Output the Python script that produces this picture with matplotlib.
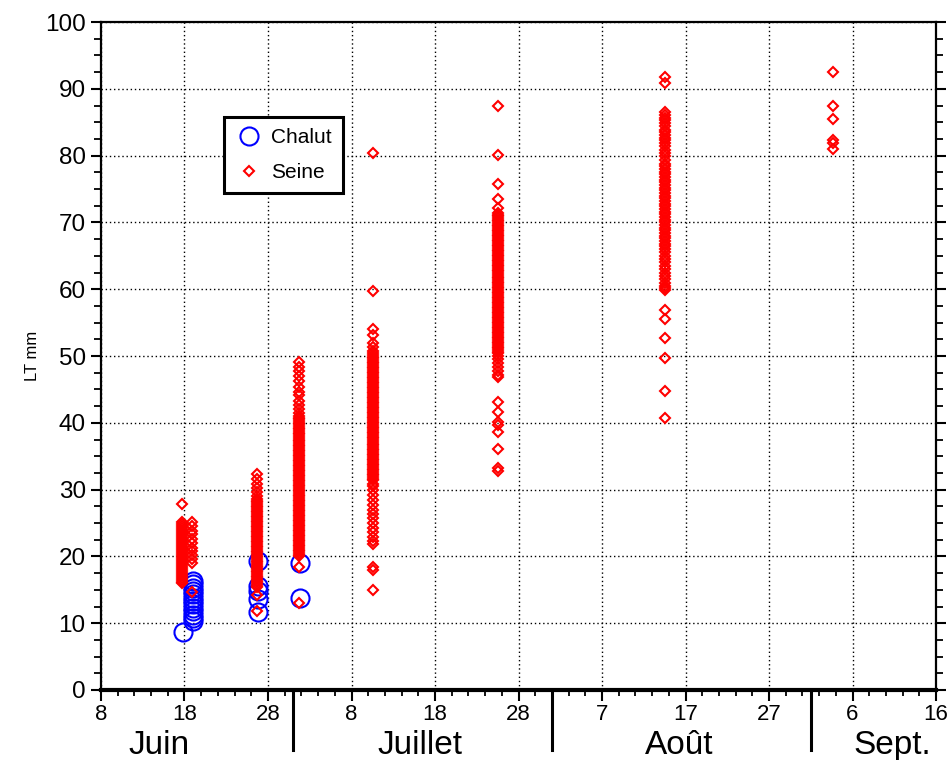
import matplotlib
matplotlib.use("Agg")
import matplotlib.pyplot as plt
from matplotlib.ticker import MultipleLocator
import matplotlib.transforms as mtransforms

plt.rcParams['font.family'] = ['Liberation Sans', 'DejaVu Sans']

# x = day counted from 1 June (June 8 = 8, July 8 = 38, Aug 7 = 68, Sept 6 = 98)
x_ticks = [8, 18, 28, 38, 48, 58, 68, 78, 88, 98, 108]
x_ticklabels = ['8', '18', '28', '8', '18', '28', '7', '17', '27', '6', '16']
months = ['Juin', 'Juillet', 'Août', 'Sept.']
month_centers = [15, 46.2, 77.3, 102.8]
month_bounds = [31, 62, 93]

# Chalut (trawl) samples
chalut_days = [17.8, 19.0, 26.8, 31.8]
chalut_jun18 = [8.7]
chalut_jun19 = [16.3, 15.8, 15.3, 14.8, 14.3, 13.8, 13.3, 12.8, 12.3, 11.8, 11.3, 10.8, 10.3]
chalut_jun27 = [19.3, 15.6, 14.8, 13.6, 11.7]
chalut_jul02 = [19.0, 13.8]

# Seine samples
seine_days = [17.7, 18.9, 26.7, 31.7, 40.6, 55.5, 75.5, 95.7]
seine_jun18 = [27.8, 25.2, 24.9, 24.6, 24.3, 24.0, 23.7, 23.4, 23.1, 22.8, 22.5, 22.2, 21.9,
               21.6, 21.3, 21.0, 20.7, 20.4, 20.1, 19.8, 19.5, 19.2, 18.9, 18.6, 18.3, 18.0,
               17.7, 17.4, 17.1, 16.8, 16.5, 16.2, 16.0]
seine_jun19 = [25.2, 24.5, 23.8, 23.3, 22.6, 22.0, 21.3, 20.8, 20.2, 19.6, 19.0, 14.7]
seine_jun27 = [32.3, 31.6, 30.8, 30.2, 29.6, 29.1,
               28.6, 28.35, 28.1, 27.85, 27.6, 27.35, 27.1, 26.85, 26.6, 26.35, 26.1, 25.85,
               25.6, 25.35, 25.1, 24.85, 24.6, 24.35, 24.1, 23.85, 23.6, 23.35, 23.1, 22.85,
               22.6, 22.35, 22.1, 21.85, 21.6, 21.35, 21.1, 20.85, 20.6, 20.35, 20.1, 19.85,
               19.6, 19.35, 19.1, 18.85, 18.6, 18.35, 18.1, 17.85, 17.6, 17.35, 17.1, 16.85,
               16.6, 16.35, 16.1, 15.85, 15.6, 15.35, 14.2, 11.8]
seine_jul02 = [49.1, 48.4, 47.7, 47.0, 46.2, 45.4, 44.6, 44.1, 43.3, 42.6, 42.0, 41.5,
               41.0, 40.75, 40.5, 40.25, 40.0, 39.75, 39.5, 39.25, 39.0, 38.75, 38.5, 38.25,
               38.0, 37.75, 37.5, 37.25, 37.0, 36.75, 36.5, 36.25, 36.0, 35.75, 35.5, 35.25,
               35.0, 34.75, 34.5, 34.25, 34.0, 33.75, 33.5, 33.25, 33.0, 32.75, 32.5, 32.25,
               32.0, 31.75, 31.5, 31.25, 31.0, 30.75, 30.5, 30.25, 30.0, 29.75, 29.5, 29.25,
               29.0, 28.75, 28.5, 28.25, 28.0, 27.75, 27.5, 27.25, 27.0, 26.75, 26.5, 26.25,
               26.0, 25.75, 25.5, 25.25, 25.0, 24.75, 24.5, 24.25, 24.0, 23.75, 23.5, 23.25,
               23.0, 22.75, 22.5, 22.25, 22.0, 21.75, 21.5, 21.25, 21.0, 20.75, 20.5, 20.25,
               20.0, 18.4, 13.0]
seine_jul11 = [80.4, 59.7, 54.0, 53.1, 52.0, 51.3, 50.8,
               50.4, 50.15, 49.9, 49.65, 49.4, 49.15, 48.9, 48.65, 48.4, 48.15, 47.9, 47.65,
               47.4, 47.15, 46.9, 46.65, 46.4, 46.15, 45.9, 45.65, 45.4, 45.15, 44.9, 44.65,
               44.4, 44.15, 43.9, 43.65, 43.4, 43.15, 42.9, 42.65, 42.4, 42.15, 41.9, 41.65,
               41.4, 41.15, 40.9, 40.65, 40.4, 40.15, 39.9, 39.65, 39.4, 39.15, 38.9, 38.65,
               38.4, 38.15, 37.9, 37.65, 37.4, 37.15, 36.9, 36.65, 36.4, 36.15, 35.9, 35.65,
               35.4, 35.15, 34.9, 34.65, 34.4, 34.15, 33.9, 33.65, 33.4, 33.15, 32.9, 32.65,
               32.4, 32.15, 31.9, 31.65, 31.4,
               30.9, 30.5, 29.9, 29.2, 28.5, 27.7, 27.0, 26.4, 25.8, 25.0, 24.3, 23.6, 22.9,
               22.3, 21.8, 18.4, 18.0, 15.0]
seine_jul25 = [87.5, 80.1, 75.7, 73.5, 72.2,
               71.4, 71.15, 70.9, 70.65, 70.4, 70.15, 69.9, 69.65, 69.4, 69.15, 68.9, 68.65,
               68.4, 68.15, 67.9, 67.65, 67.4, 67.15, 66.9, 66.65, 66.4, 66.15, 65.9, 65.65,
               65.4, 65.15, 64.9, 64.65, 64.4, 64.15, 63.9, 63.65, 63.4, 63.15, 62.9, 62.65,
               62.4, 62.15, 61.9, 61.65, 61.4, 61.15, 60.9, 60.65, 60.4, 60.15, 59.9, 59.65,
               59.4, 59.15, 58.9, 58.65, 58.4, 58.15, 57.9, 57.65, 57.4, 57.15, 56.9, 56.65,
               56.4, 56.15, 55.9, 55.65, 55.4, 55.15, 54.9, 54.65, 54.4, 54.15, 53.9, 53.65,
               53.4, 53.15, 52.9, 52.65, 52.4, 52.15, 51.9, 51.65, 51.4, 51.15, 50.9, 50.65,
               50.4, 50.0, 49.6, 49.0, 48.4, 47.8, 47.2, 46.9,
               43.1, 41.6, 40.1, 39.6, 38.6, 36.1, 33.2, 32.8]
seine_aug15 = [91.8, 90.8, 86.5, 86.1, 85.7, 85.3, 84.9, 84.4, 83.9, 83.5, 83.1, 82.7, 82.3,
               81.9, 81.4, 80.9, 80.4, 79.9, 79.3, 78.8, 78.4, 78.0, 77.6, 77.2, 76.8, 76.4,
               76.0, 75.6, 75.2, 74.8, 74.4, 74.0, 73.6, 73.2, 72.8, 72.4, 72.0, 71.6, 71.2,
               70.8, 70.4, 70.0, 69.6, 69.2, 68.8, 68.4, 68.0, 67.6, 67.2, 66.8, 66.4, 66.0,
               65.5, 65.0, 64.5, 64.0, 63.5, 63.0, 62.5, 62.0, 61.5, 61.0, 60.5, 60.2, 59.9,
               56.9, 55.5, 52.7, 49.7, 44.8, 40.7]
seine_sep04 = [92.5, 87.4, 85.5, 82.3, 81.9, 81.0]

chalut_groups = [chalut_jun18, chalut_jun19, chalut_jun27, chalut_jul02]
seine_groups = [seine_jun18, seine_jun19, seine_jun27, seine_jul02, seine_jul11,
                seine_jul25, seine_aug15, seine_sep04]

fig = plt.figure(figsize=(9.53, 7.60), dpi=100)
ax = fig.add_axes([101/953, 1-690/760, 835/953, 668/760])

cx, cy = [], []
for d, vals in zip(chalut_days, chalut_groups):
    cx += [d] * len(vals)
    cy += vals
sx, sy = [], []
for d, vals in zip(seine_days, seine_groups):
    sx += [d] * len(vals)
    sy += vals

ax.plot(cx, cy, linestyle='none', marker='o', markersize=13, markerfacecolor='none',
        markeredgecolor='#0000ff', markeredgewidth=1.5, label='Chalut', zorder=3)
ax.plot(sx, sy, linestyle='none', marker='D', markersize=5.6, markerfacecolor='none',
        markeredgecolor='#ff0000', markeredgewidth=1.5, label='Seine', zorder=4)

ax.set_xlim(8, 108)
ax.set_ylim(0, 100)
ax.set_xticks(x_ticks)
ax.set_xticklabels(x_ticklabels)
ax.xaxis.set_minor_locator(MultipleLocator(2))
ax.yaxis.set_major_locator(MultipleLocator(10))
ax.yaxis.set_minor_locator(MultipleLocator(2.5))

ax.grid(True, which='major', color='black', linestyle=(0, (1, 2)), linewidth=1.0)
for s in ['left', 'right', 'top']:
    ax.spines[s].set_linewidth(1.6)
ax.spines['bottom'].set_linewidth(3.0)

ax.tick_params(axis='y', which='major', direction='out', length=7, width=1.5,
               labelsize=17.5, left=True, right=True, pad=4)
ax.tick_params(axis='y', which='minor', direction='out', length=5, width=1.3,
               left=True, right=True)
ax.tick_params(axis='x', which='major', direction='out', length=8, width=1.5,
               labelsize=16, bottom=True, top=False, pad=2)
ax.tick_params(axis='x', which='minor', direction='out', length=4, width=1.3,
               bottom=True, top=False)

ax.set_ylabel('LT mm', fontsize=12)
ax.yaxis.set_label_coords(-0.073, 0.5)

trans = mtransforms.blended_transform_factory(ax.transData, ax.transAxes)
for name, c in zip(months, month_centers):
    ax.text(c, -0.083, name, transform=trans, ha='center', va='center', fontsize=24)
for b in month_bounds:
    ax.plot([b, b], [0, -0.09], transform=trans, color='black', linewidth=2.2,
            clip_on=False)

leg = ax.legend(loc='upper left', bbox_to_anchor=(0.147, 0.858), borderaxespad=0,
                fontsize=15, frameon=True, fancybox=False, framealpha=1,
                edgecolor='black', handletextpad=0.4, borderpad=0.55,
                labelspacing=0.75, handlelength=1.3)
leg.get_frame().set_linewidth(2.2)

fig.savefig('out.png', dpi=100)
